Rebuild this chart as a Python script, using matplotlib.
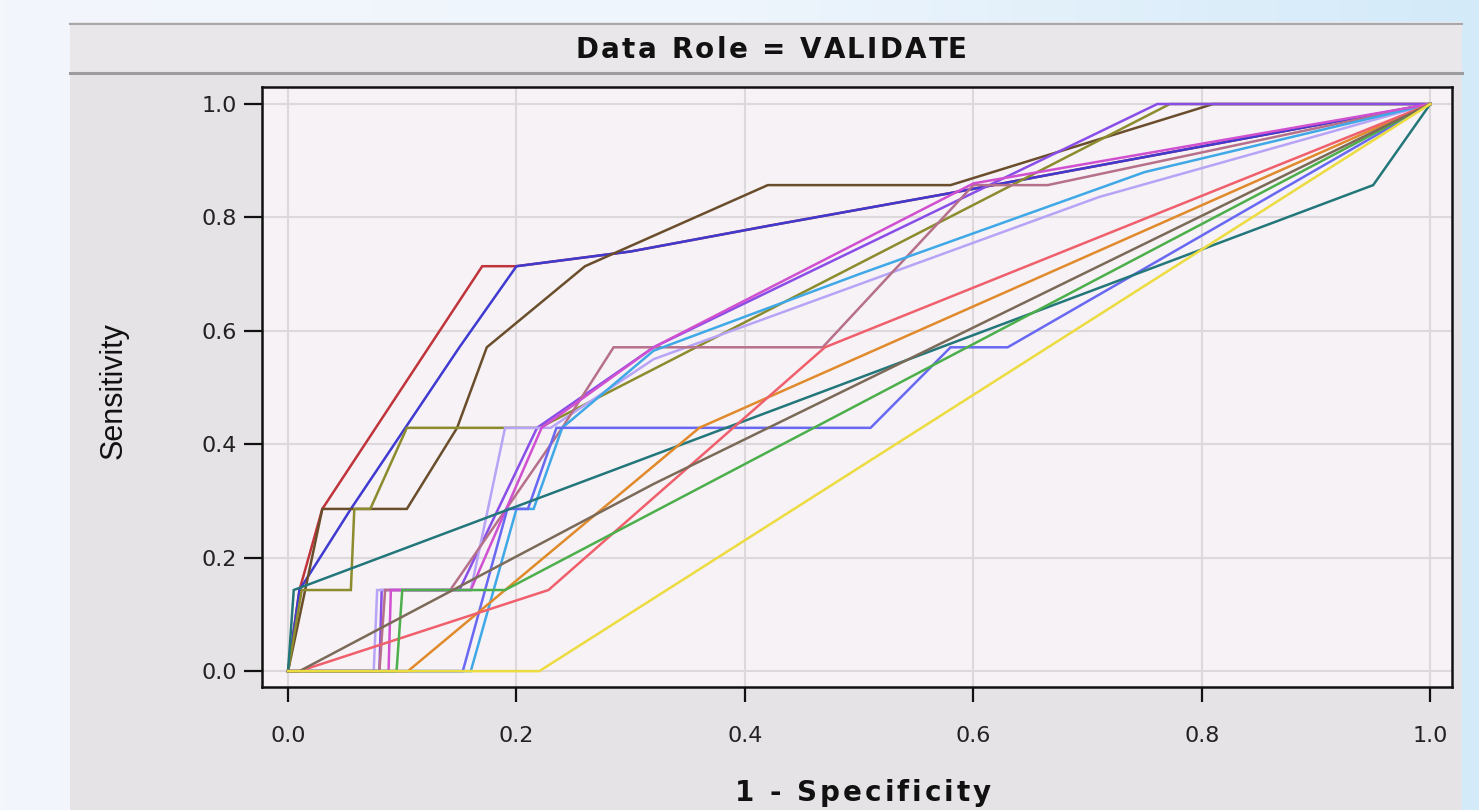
import matplotlib
matplotlib.use("Agg")
import matplotlib.pyplot as plt
import numpy as np
from matplotlib.patches import Rectangle
from matplotlib.lines import Line2D

# ROC curves, validation data (1 - specificity, sensitivity)
curve_names = ["red", "blue", "brown", "olive", "purple", "lavender", "rose", "cyan",
               "magenta", "blue2", "teal", "orange", "salmon", "green", "graybrown", "yellow"]

red_x = [0, 0.01, 0.03, 0.17, 0.2, 0.3, 0.42, 0.58, 1]
red_y = [0, 0.143, 0.286, 0.714, 0.714, 0.74, 0.785, 0.843, 1]
blue_x = [0, 0.01, 0.055, 0.15, 0.2, 0.3, 0.42, 0.58, 1]
blue_y = [0, 0.143, 0.286, 0.571, 0.714, 0.74, 0.785, 0.843, 1]
brown_x = [0, 0.015, 0.03, 0.104, 0.148, 0.174, 0.26, 0.42, 0.58, 0.81, 1]
brown_y = [0, 0.143, 0.286, 0.286, 0.429, 0.571, 0.714, 0.857, 0.857, 1, 1]
olive_x = [0, 0.012, 0.055, 0.058, 0.072, 0.104, 0.22, 0.772, 1]
olive_y = [0, 0.143, 0.143, 0.286, 0.286, 0.429, 0.429, 1, 1]
purple_x = [0, 0.08, 0.082, 0.15, 0.218, 0.32, 0.761, 1]
purple_y = [0, 0, 0.143, 0.143, 0.429, 0.571, 1, 1]
lavender_x = [0, 0.075, 0.078, 0.16, 0.19, 0.23, 0.32, 0.71, 1]
lavender_y = [0, 0, 0.143, 0.143, 0.429, 0.429, 0.55, 0.836, 1]
rose_x = [0, 0.08, 0.085, 0.142, 0.24, 0.285, 0.468, 0.6, 0.665, 1]
rose_y = [0, 0, 0.143, 0.143, 0.429, 0.571, 0.571, 0.857, 0.857, 1]
cyan_x = [0, 0.16, 0.2, 0.215, 0.24, 0.32, 0.5, 0.75, 1]
cyan_y = [0, 0, 0.286, 0.286, 0.429, 0.565, 0.7, 0.88, 1]
magenta_x = [0, 0.088, 0.09, 0.16, 0.222, 0.32, 0.6, 1]
magenta_y = [0, 0, 0.143, 0.143, 0.429, 0.571, 0.86, 1]
blue2_x = [0, 0.153, 0.192, 0.21, 0.235, 0.51, 0.58, 0.63, 1]
blue2_y = [0, 0, 0.286, 0.286, 0.429, 0.429, 0.571, 0.571, 1]
teal_x = [0, 0.005, 0.95, 1]
teal_y = [0, 0.143, 0.857, 1]
orange_x = [0, 0.105, 0.36, 1]
orange_y = [0, 0, 0.429, 1]
salmon_x = [0, 0.01, 0.228, 0.47, 1]
salmon_y = [0, 0, 0.143, 0.571, 1]
green_x = [0, 0.095, 0.1, 0.19, 1]
green_y = [0, 0, 0.143, 0.143, 1]
graybrown_x = [0, 0.01, 0.32, 1]
graybrown_y = [0, 0, 0.33, 1]
yellow_x = [0, 0.22, 1]
yellow_y = [0, 0, 1]

curves = {
    "red": (red_x, red_y, "#c0343c"),
    "blue": (blue_x, blue_y, "#3f3ad0"),
    "brown": (brown_x, brown_y, "#6a4e2c"),
    "olive": (olive_x, olive_y, "#8c8c2e"),
    "purple": (purple_x, purple_y, "#8a4ee8"),
    "lavender": (lavender_x, lavender_y, "#b8a4f6"),
    "rose": (rose_x, rose_y, "#b6708a"),
    "cyan": (cyan_x, cyan_y, "#3fa8e6"),
    "magenta": (magenta_x, magenta_y, "#d050d0"),
    "blue2": (blue2_x, blue2_y, "#6868f2"),
    "teal": (teal_x, teal_y, "#23777a"),
    "orange": (orange_x, orange_y, "#e08a2c"),
    "salmon": (salmon_x, salmon_y, "#f0606c"),
    "green": (green_x, green_y, "#4caf4c"),
    "graybrown": (graybrown_x, graybrown_y, "#7c6a58"),
    "yellow": (yellow_x, yellow_y, "#ecdc40"),
}

W, H = 1479, 810
fig = plt.figure(figsize=(W / 100, H / 100), dpi=100)

# page background: pale blue gradient
bg = fig.add_axes([0, 0, 1, 1])
grad = np.linspace(0, 1, 256)[None, :]
cmap = matplotlib.colors.LinearSegmentedColormap.from_list("bg", ["#f3f7fc", "#eef5fc", "#d3eaf9"])
bg.imshow(grad, aspect="auto", cmap=cmap, extent=[0, W, H, 0])
bg.set_xlim(0, W)
bg.set_ylim(H, 0)
bg.axis("off")


def spaced_text(cx, base_y, s, track, **kw):
    # draws s centred at cx with a little extra letter spacing (pixels)
    r = fig.canvas.get_renderer()

    def width(t):
        tt = bg.text(0, 0, t, **kw)
        w = tt.get_window_extent(renderer=r).width
        tt.remove()
        return w

    wx = width("x")
    starts = [width(s[:i] + "x") - wx for i in range(len(s))]
    total = width(s) + track * (len(s) - 1)
    x0 = cx - total / 2
    for i, ch in enumerate(s):
        if ch != " ":
            bg.text(x0 + starts[i] + i * track, base_y, ch, ha="left", va="baseline", **kw)


# graph panel
bg.add_patch(Rectangle((70, 22), 1392, H - 22, facecolor="#e6e3e6", edgecolor="none"))
bg.add_patch(Rectangle((70, 22), 1392, 52, facecolor="#e9e7ea", edgecolor="none"))
bg.add_line(Line2D([70, 1462], [24, 24], color="#a8a8aa", lw=1.5))
bg.add_line(Line2D([70, 1462], [73, 73], color="#9c9c9e", lw=2.2))
spaced_text(771, 58, "Data Role = VALIDATE", 2.5, fontsize=20, fontweight="bold",
            color="#111111", family="DejaVu Sans")
spaced_text(863, 801, "1 - Specificity", 3.0, fontsize=20, fontweight="bold",
            color="#111111", family="DejaVu Sans")
bg.text(114, 391, "Sensitivity", rotation=90, ha="center", va="center", fontsize=22,
        family=["Liberation Sans", "DejaVu Sans"], color="#111111")

ax = fig.add_axes([262 / W, 1 - 687 / H, 1190 / W, 600 / H])
ax.set_facecolor("#f6f2f6")
for name in curve_names:
    xs, ys, col = curves[name]
    ax.plot(xs, ys, color=col, lw=1.8, solid_joinstyle="miter")

ax.set_xlim(-0.0228, 1.019)
ax.set_ylim(-0.028, 1.03)
ticks = [0.0, 0.2, 0.4, 0.6, 0.8, 1.0]
ax.set_xticks(ticks)
ax.set_yticks(ticks)
ax.set_xticklabels([f"{t:.1f}" for t in ticks])
ax.set_yticklabels([f"{t:.1f}" for t in ticks])
ax.grid(True, color="#dcd8dc", lw=1.5)
ax.set_axisbelow(True)
for s in ax.spines.values():
    s.set_color("#111111")
    s.set_linewidth(1.8)
ax.tick_params(axis="both", direction="out", width=1.6, color="#111111",
               labelsize=16, labelcolor="#222222")
ax.tick_params(axis="y", length=13, pad=5)
ax.tick_params(axis="x", length=11, pad=17)

fig.savefig("out.png", dpi=100)
